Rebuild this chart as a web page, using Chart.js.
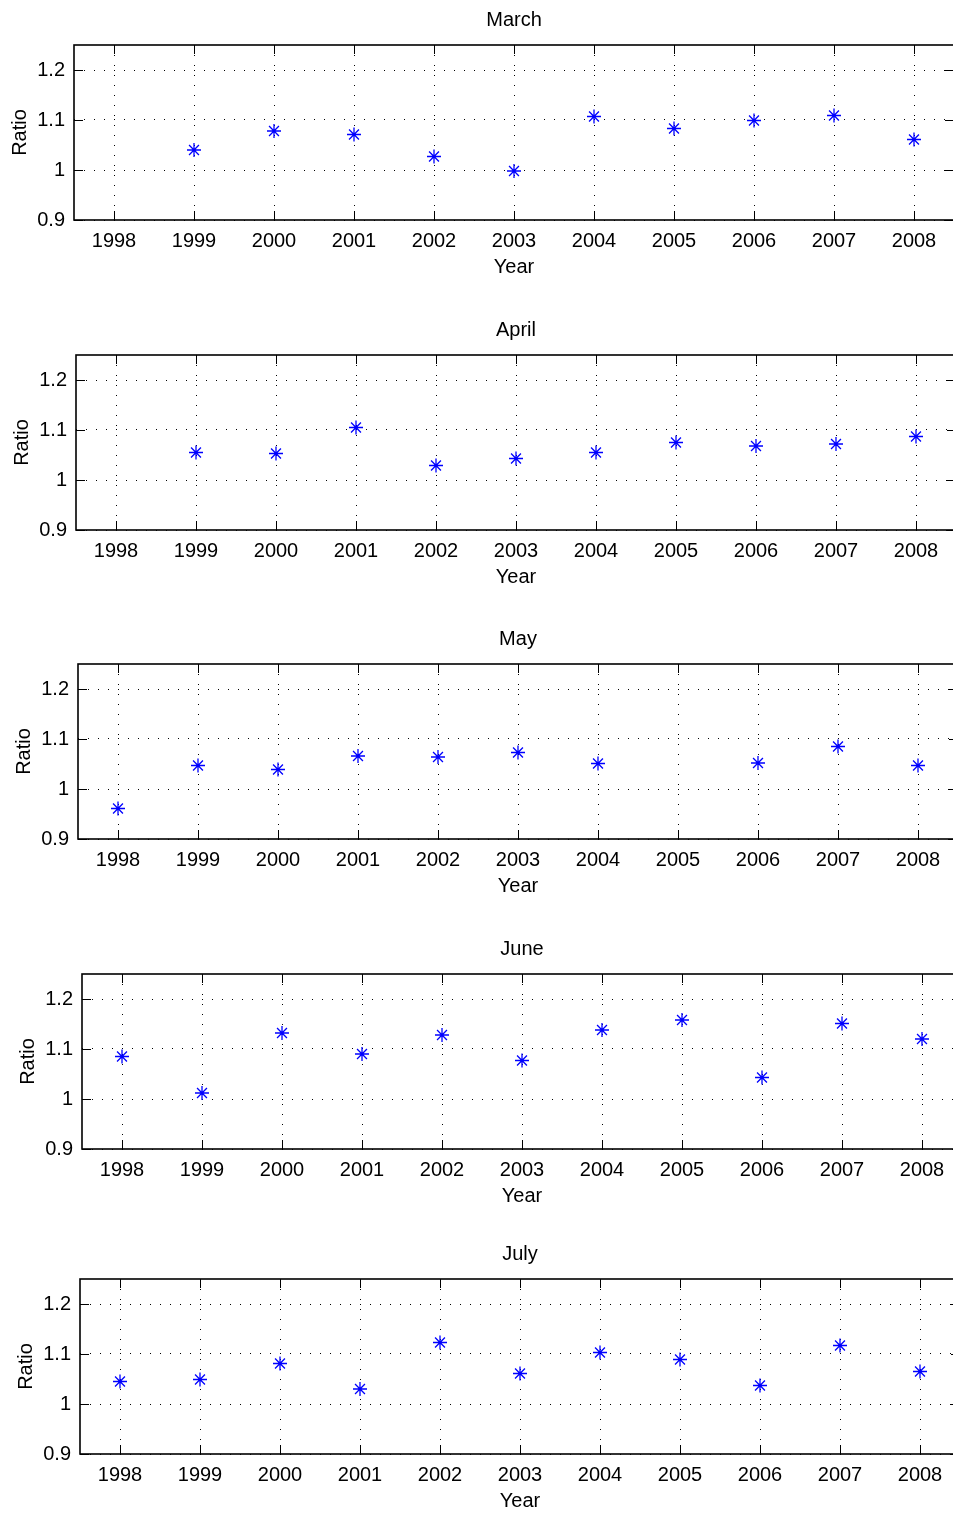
<!DOCTYPE html>
<html>
<head>
<meta charset="utf-8">
<script src="https://cdn.jsdelivr.net/npm/chart.js@4.4.1/dist/chart.umd.min.js"></script>
<style>
html, body { margin: 0; padding: 0; background: #fff; overflow: hidden; width: 953px; height: 1513px; }
canvas { position: absolute; left: 0; }
</style>
</head>
<body>
<script>
// values (null = no point)
var years = [1998, 1999, 2000, 2001, 2002, 2003, 2004, 2005, 2006, 2007, 2008];
var yTicks = [0.9, 1, 1.1, 1.2];
var marchRatio = [null, 1.040, 1.078, 1.071, 1.027, 0.998, 1.107, 1.083, 1.099, 1.109, 1.061];
var aprilRatio = [null, 1.055, 1.053, 1.105, 1.029, 1.043, 1.055, 1.075, 1.068, 1.072, 1.087];
var mayRatio = [0.961, 1.047, 1.039, 1.066, 1.064, 1.073, 1.051, null, 1.052, 1.085, 1.047];
var juneRatio = [1.085, 1.012, 1.132, 1.090, 1.128, 1.077, 1.138, 1.158, 1.043, 1.151, 1.120];
var julyRatio = [1.045, 1.049, 1.081, 1.030, 1.123, 1.061, 1.103, 1.089, 1.037, 1.117, 1.065];

var FONT = 'Liberation Sans, Arial, Helvetica, sans-serif';
var CANVAS_W = 1000, CANVAS_H = 280, PLOT_W = 880;

// where each subplot's axes box sits on the page
var panels = [
    {title: 'March', values: marchRatio, top: 45, left: 74},
    {title: 'April', values: aprilRatio, top: 355, left: 76},
    {title: 'May', values: mayRatio, top: 664, left: 78},
    {title: 'June', values: juneRatio, top: 974, left: 82},
    {title: 'July', values: julyRatio, top: 1279, left: 80}
];

// matlab style box: frame plus inward tick marks
var boxPlugin = {
    id: 'matlabBox',
    afterDraw: function(chart) {
        var a = chart.chartArea, ctx = chart.ctx;
        var xs = chart.scales.x, ys = chart.scales.y;
        var len = 9;
        ctx.save();
        ctx.strokeStyle = '#000';
        ctx.lineWidth = 1;
        ctx.beginPath();
        xs.ticks.forEach(function(t) {
            var px = Math.round(xs.getPixelForValue(t.value)) + 0.5;
            ctx.moveTo(px, a.bottom); ctx.lineTo(px, a.bottom - len);
            ctx.moveTo(px, a.top); ctx.lineTo(px, a.top + len);
        });
        ys.ticks.forEach(function(t) {
            var py = Math.round(ys.getPixelForValue(t.value)) + 0.5;
            ctx.moveTo(a.left, py); ctx.lineTo(a.left + len, py);
            ctx.moveTo(a.right, py); ctx.lineTo(a.right - len, py);
        });
        ctx.stroke();
        ctx.lineWidth = 1.6;
        ctx.strokeRect(a.left, a.top, a.right - a.left, a.bottom - a.top);
        ctx.restore();
    }
};

panels.forEach(function(p) {
    var canvas = document.createElement('canvas');
    canvas.width = CANVAS_W;
    canvas.height = CANVAS_H;
    canvas.style.top = (p.top - 45) + 'px';
    document.body.appendChild(canvas);

    var points = [];
    p.values.forEach(function(v, i) {
        if (v !== null) points.push({x: years[i], y: v});
    });

    new Chart(canvas.getContext('2d'), {
        type: 'scatter',
        data: {
            datasets: [{
                data: points,
                pointStyle: 'star',
                pointRadius: 7,
                pointBorderWidth: 1.3,
                pointBorderColor: '#0000ff',
                pointBackgroundColor: '#0000ff',
                clip: false
            }]
        },
        options: {
            responsive: false,
            animation: false,
            events: [],
            layout: {padding: {left: 0, top: 0, bottom: 0, right: CANVAS_W - p.left - PLOT_W}},
            plugins: {
                legend: {display: false},
                tooltip: {enabled: false},
                title: {
                    display: true,
                    text: p.title,
                    fullSize: false,
                    color: '#000',
                    font: {family: FONT, size: 20, weight: 'normal', lineHeight: 1.2},
                    padding: {top: 8, bottom: 13}
                }
            },
            scales: {
                x: {
                    type: 'linear',
                    position: 'bottom',
                    min: 1997.5,
                    max: 2008.5,
                    afterBuildTicks: function(s) {
                        s.ticks = years.map(function(v) { return {value: v}; });
                    },
                    afterFit: function(s) { s.height = 60; },
                    grid: {color: '#000', lineWidth: 1, drawTicks: false},
                    border: {display: false, dash: [1, 9]},
                    ticks: {
                        color: '#000',
                        padding: 9,
                        maxRotation: 0,
                        autoSkip: false,
                        font: {family: FONT, size: 20},
                        callback: function(v) { return String(v); }
                    },
                    title: {
                        display: true,
                        text: 'Year',
                        color: '#000',
                        font: {family: FONT, size: 20},
                        padding: {top: 0, bottom: 1}
                    }
                },
                y: {
                    type: 'linear',
                    position: 'left',
                    min: 0.9,
                    max: 1.25,
                    afterBuildTicks: function(s) {
                        s.ticks = yTicks.map(function(v) { return {value: v}; });
                    },
                    afterFit: function(s) { s.width = p.left; },
                    grid: {color: '#000', lineWidth: 1, drawTicks: false},
                    border: {display: false, dash: [1, 9]},
                    ticks: {
                        color: '#000',
                        padding: 9,
                        font: {family: FONT, size: 20},
                        callback: function(v) { return String(Math.round(v * 10) / 10); }
                    },
                    title: {
                        display: true,
                        text: 'Ratio',
                        color: '#000',
                        font: {family: FONT, size: 20},
                        padding: {top: p.left - 66, bottom: 0}
                    }
                }
            }
        },
        plugins: [boxPlugin]
    });
});
</script>
</body>
</html>
